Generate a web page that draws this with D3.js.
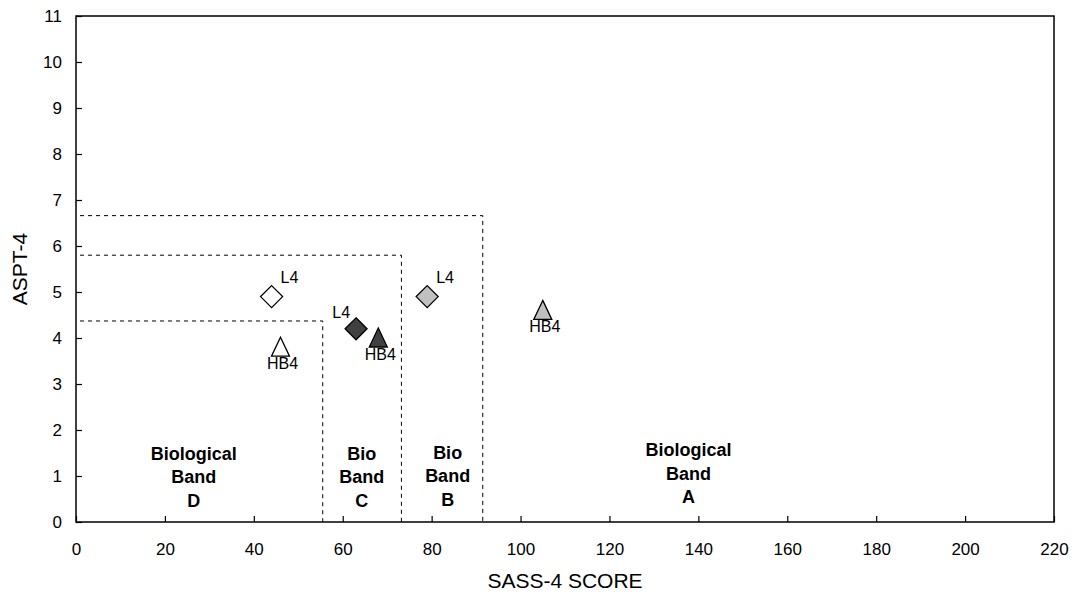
<!DOCTYPE html>
<html>
<head>
<meta charset="utf-8">
<script src="https://cdn.jsdelivr.net/npm/d3@7"></script>
<style>
  body { margin: 0; background: #fff; }
  svg { font-family: "Liberation Sans", Arial, sans-serif; }
</style>
</head>
<body>
<svg id="chart" width="1074" height="595"></svg>
<script>
// sites: SASS-4 score vs ASPT-4
const siteNames = ["L4", "HB4", "L4", "HB4", "L4", "HB4"];
const siteScore = [44, 46, 63, 68, 79, 105];
const siteAspt  = [4.9, 3.8, 4.2, 4.0, 4.9, 4.6];
const siteShape = ["diamond", "triangle", "diamond", "triangle", "diamond", "triangle"];
const siteFill  = ["#ffffff", "#ffffff", "#404040", "#404040", "#c0c0c0", "#c0c0c0"];

// band boundaries (score, aspt)
const bandScore = [55.5, 73.2, 91.5];
const bandAspt  = [4.37, 5.8, 6.66];

// band labels
const bandLines = [["Biological", "Band", "D"], ["Bio", "Band", "C"], ["Bio", "Band", "B"], ["Biological", "Band", "A"]];
const bandLabelX = [26.5, 64.3, 83.6, 137.8];
const bandLabelY = [1.35, 1.35, 1.37, 1.43];

const xTicks = d3.range(0, 221, 20);
const yTicks = d3.range(0, 12, 1);

const margin = {left: 76, top: 16, right: 20, bottom: 73};
const W = 1074, H = 595;

const svg = d3.select("#chart");

const x = d3.scaleLinear().domain([0, 220]).range([margin.left, W - margin.right]);
const y = d3.scaleLinear().domain([0, 11]).range([H - margin.bottom, margin.top]);

// dashed band boxes
const g = svg.append("g");
bandScore.forEach((s, i) => {
    g.append("path")
        .attr("d", `M${x(0) + 4},${y(bandAspt[i])}H${x(s)}V${y(0)}`)
        .attr("fill", "none")
        .attr("stroke", "#000")
        .attr("stroke-width", 1)
        .attr("stroke-dasharray", "4,4");
});

// axes, ticks inside
const xAxis = svg.append("g")
    .attr("transform", `translate(0,${y(0)})`)
    .call(d3.axisBottom(x).tickValues(xTicks).tickSizeInner(-6).tickSizeOuter(0).tickPadding(21));
const yAxis = svg.append("g")
    .attr("transform", `translate(${x(0)},0)`)
    .call(d3.axisLeft(y).tickValues(yTicks).tickSizeInner(-6).tickSizeOuter(0).tickPadding(14));

[xAxis, yAxis].forEach(a => {
    a.selectAll("text").attr("font-size", 17).attr("fill", "#000")
        .attr("font-family", "Liberation Sans, Arial, sans-serif");
    a.selectAll("line").attr("stroke", "#000").attr("stroke-width", 1.2);
    a.select(".domain").remove();
});

// frame
svg.append("rect")
    .attr("x", x(0)).attr("y", y(11))
    .attr("width", x(220) - x(0)).attr("height", y(0) - y(11))
    .attr("fill", "none").attr("stroke", "#000").attr("stroke-width", 1.5);

// axis titles
svg.append("text")
    .attr("x", 565).attr("y", 588)
    .attr("text-anchor", "middle").attr("font-size", 21)
    .text("SASS-4 SCORE");
svg.append("text")
    .attr("transform", `translate(27,${(y(0) + y(11)) / 2}) rotate(-90)`)
    .attr("text-anchor", "middle").attr("font-size", 21)
    .text("ASPT-4");

// band labels
bandLines.forEach((lines, i) => {
    const t = svg.append("text")
        .attr("text-anchor", "middle")
        .attr("font-size", 18).attr("font-weight", "bold");
    lines.forEach((ln, j) => {
        t.append("tspan")
            .attr("x", x(bandLabelX[i]))
            .attr("y", y(bandLabelY[i]) + j * 23.5)
            .text(ln);
    });
});

// markers
const diamondPath = "M0,-11L11,0L0,11L-11,0Z";
const triPath = "M0,-10L9,9L-9,9Z";

const pts = siteNames.map((n, i) => ({
    name: n, score: siteScore[i], aspt: siteAspt[i], shape: siteShape[i], fill: siteFill[i]
}));

svg.append("g").selectAll("path")
    .data(pts)
    .join("path")
    .attr("transform", d => `translate(${x(d.score)},${y(d.aspt)})`)
    .attr("d", d => d.shape === "diamond" ? diamondPath : triPath)
    .attr("fill", d => d.fill)
    .attr("stroke", "#000")
    .attr("stroke-width", 1.3);

// point labels
svg.append("g").selectAll("text")
    .data(pts)
    .join("text")
    .attr("font-size", 16)
    .attr("text-anchor", d => d.shape === "triangle" ? "middle" : (d.fill === "#404040" ? "end" : "start"))
    .attr("x", d => {
        if (d.shape === "triangle") return x(d.score) + 2;
        return d.fill === "#404040" ? x(d.score) - 6 : x(d.score) + 9;
    })
    .attr("y", d => {
        if (d.shape === "triangle") return y(d.aspt) + 22;
        return d.fill === "#404040" ? y(d.aspt) - 11 : y(d.aspt) - 14;
    })
    .text(d => d.name);
</script>
</body>
</html>
